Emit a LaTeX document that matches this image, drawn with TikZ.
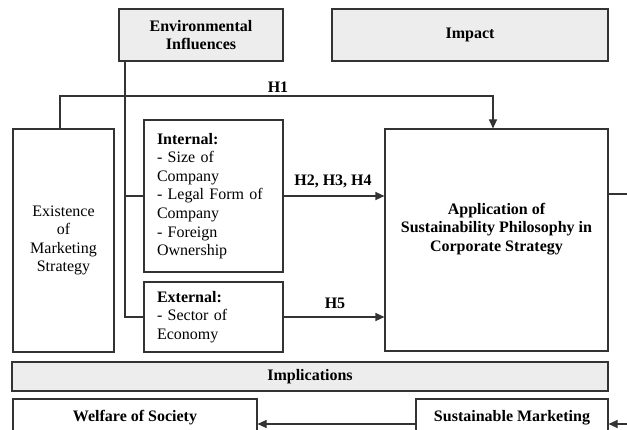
\documentclass[tikz,border=0pt]{standalone}
\usepackage{fontspec}
\setmainfont{Liberation Serif}
\usetikzlibrary{arrows.meta}
\begin{document}
\begin{tikzpicture}[x=1pt,y=-1pt,
  box/.style={draw=black!80, line width=1.1pt, inner sep=0pt, font=\fontsize{16}{18.6}\selectfont},
  graybox/.style={box, fill=black!7, font=\bfseries\fontsize{16}{18.6}\selectfont},
  boldbox/.style={box, font=\bfseries\fontsize{16}{18.6}\selectfont},
  conn/.style={draw=black!80, line width=1.1pt},
  arr/.style={conn, -{Triangle[length=9pt,width=8pt]}},
  lbl/.style={font=\bfseries\fontsize{16}{18.6}\selectfont, inner sep=0pt}]
\useasboundingbox (0,0) rectangle (627,430);
\clip (0,0) rectangle (627,430);

\node[graybox, minimum width=164pt, minimum height=52pt, align=center] (env) at (201,35) {Environmental\\Influences};
\node[graybox, minimum width=276pt, minimum height=52pt] (imp) at (470,35) {Impact};
\node[box, minimum width=101pt, minimum height=223pt, align=center] (exist) at (63.5,240.5) {Existence\\of\\Marketing\\Strategy};
\node[box, text width=113pt, inner xsep=13pt, minimum height=152pt, align=left] (int) at (213.5,196) {\textbf{Internal:}\\- Size of\\Company\\- Legal Form of\\Company\\- Foreign\\Ownership};
\node[box, text width=113pt, inner xsep=13pt, minimum height=70pt, align=left] (ext) at (213.5,317) {\textbf{External:}\\- Sector of\\Economy};
\node[box, minimum width=223pt, minimum height=222pt] (app) at (496.5,240) {};
\node[lbl, align=center] (apptext) at (496.5,229) {Application of\\Sustainability Philosophy in\\Corporate Strategy};
\node[graybox, minimum width=596pt, minimum height=29pt] (impl) at (310,376.5) {Implications};
\node[boldbox, minimum width=244pt, minimum height=37pt] (wel) at (135,417.5) {Welfare of Society};
\node[boldbox, minimum width=192pt, minimum height=37pt] (sus) at (512,417.5) {Sustainable Marketing};

% H1
\coordinate (h1a) at (60,96);
\coordinate (h1b) at (493,96);
\draw[arr] (exist.north -| h1a) -- (h1a) -- (h1b) -- (app.north -| h1b);
\node[lbl] (h1) at (278,87) {H1};

% environmental influences
\coordinate (ev) at (125,317);
\draw[conn] (env.south -| ev) -- (ev) -- (ext.west);
\draw[conn] (int.west -| ev) -- (int.west);

% H2-H4, H5
\draw[arr] (int.east) -- (app.west |- int.east);
\node[lbl] (h234) at (333,181) {H2, H3, H4};
\draw[arr] (ext.east) -- (app.west |- ext.east);
\node[lbl] (h5) at (335,303) {H5};

% right side
\coordinate (r1) at (630,194);
\draw[conn] (app.east |- r1) -- (r1);
\coordinate (r2) at (630,424);
\draw[arr] (r2) -- (sus.east |- r2);
\draw[arr] (sus.west |- r2) -- (wel.east |- r2);
\end{tikzpicture}
\end{document}
